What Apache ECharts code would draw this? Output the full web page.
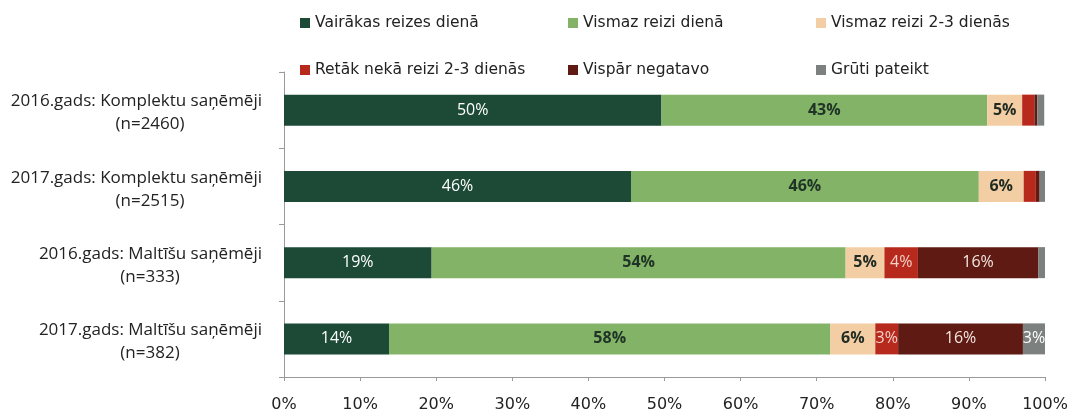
<!DOCTYPE html>
<html><head><meta charset="utf-8">
<script src="https://cdn.jsdelivr.net/npm/echarts@6/dist/echarts.min.js"></script>
<style>html,body{margin:0;padding:0;background:#fff}#c{width:1072px;height:412px}</style>
</head><body><div id="c"></div>
<script>
const categories = ['2016.gads: Komplektu saņēmēji|(n=2460)', '2017.gads: Komplektu saņēmēji|(n=2515)', '2016.gads: Maltīšu saņēmēji|(n=333)', '2017.gads: Maltīšu saņēmēji|(n=382)'];
const seriesNames = ['Vairākas reizes dienā', 'Vismaz reizi dienā', 'Vismaz reizi 2-3 dienās', 'Retāk nekā reizi 2-3 dienās', 'Vispār negatavo', 'Grūti pateikt'];
const vairakas = [49.6, 45.6, 19.4, 13.8];
const vismazDiena = [42.8, 45.7, 54.4, 58.0];
const vismaz23 = [4.6, 5.9, 5.1, 5.9];
const retak = [1.6, 1.6, 4.4, 3.0];
const vispar = [0.4, 0.5, 15.8, 16.4];
const gruti = [0.9, 0.8, 0.9, 2.9];
const xTicks = [0, 10, 20, 30, 40, 50, 60, 70, 80, 90, 100];

const values = [vairakas, vismazDiena, vismaz23, retak, vispar, gruti];
const colors = ['#1c4a36', '#82b366', '#f3cea4', '#b8291d', '#5f1b13', '#7c807e'];
const labelColors = ['#ffffff', '#1f3326', '#1f2a22', '#f3d0c8', '#f3e6e0', '#ffffff'];
const labelBold = ['normal', 'bold', 'bold', 'normal', 'normal', 'normal'];
const FONT = 'Open Sans';
const WIDE = 'DejaVu Sans';

const chart = echarts.init(document.getElementById('c'), null, {renderer: 'canvas'});
const legendPos = [[295, 10], [563, 10], [811, 10], [295, 57], [563, 57], [811, 57]];
const legends = seriesNames.map((n, i) => ({
  data: [n], left: legendPos[i][0], top: legendPos[i][1], itemWidth: 10, itemHeight: 10, itemGap: 7,
  icon: 'rect', textStyle: {fontFamily: WIDE, fontSize: 15.5, color: '#222'}, selectedMode: false
}));

chart.setOption({
  animation: false,
  legend: legends,
  grid: {left: 284, right: 27, top: 72, bottom: 35, containLabel: false, outerBoundsMode: 'none'},
  xAxis: {
    type: 'value', min: 0, max: 100, interval: 10,
    axisLine: {show: true, lineStyle: {color: '#9a9a9a'}},
    axisTick: {show: true, length: 4, lineStyle: {color: '#9a9a9a'}},
    splitLine: {show: false},
    axisLabel: {fontFamily: WIDE, fontSize: 16, color: '#222', margin: 20,
      formatter: v => xTicks.indexOf(v) >= 0 ? v + '%' : ''}
  },
  yAxis: {
    type: 'category', inverse: true, data: categories,
    axisLine: {show: true, lineStyle: {color: '#9a9a9a'}},
    axisTick: {show: true, length: 5, lineStyle: {color: '#9a9a9a'}},
    axisLabel: {
      margin: 22, color: '#222', fontFamily: FONT, fontSize: 17, lineHeight: 23, padding: [6, 0, 0, 0],
      width: 224, overflow: 'none',
      formatter: v => { const p = v.split('|'); return '{a|' + p[0] + '}\n{b|' + p[1] + '}'; },
      rich: {
        a: {fontFamily: FONT, fontSize: 17, lineHeight: 23, color: '#222', align: 'right'},
        b: {fontFamily: FONT, fontSize: 17, lineHeight: 23, color: '#222', align: 'center'}
      }
    }
  },
  series: seriesNames.map((n, i) => ({
    name: n, type: 'bar', stack: 'all', barWidth: 31,
    itemStyle: {color: colors[i]},
    data: values[i],
    label: {
      show: true, position: 'inside', fontFamily: FONT, fontSize: 16,
      color: labelColors[i], fontWeight: labelBold[i],
      formatter: p => p.value >= 2.5 ? Math.round(p.value) + '%' : ''
    }
  }))
});
</script></body></html>
